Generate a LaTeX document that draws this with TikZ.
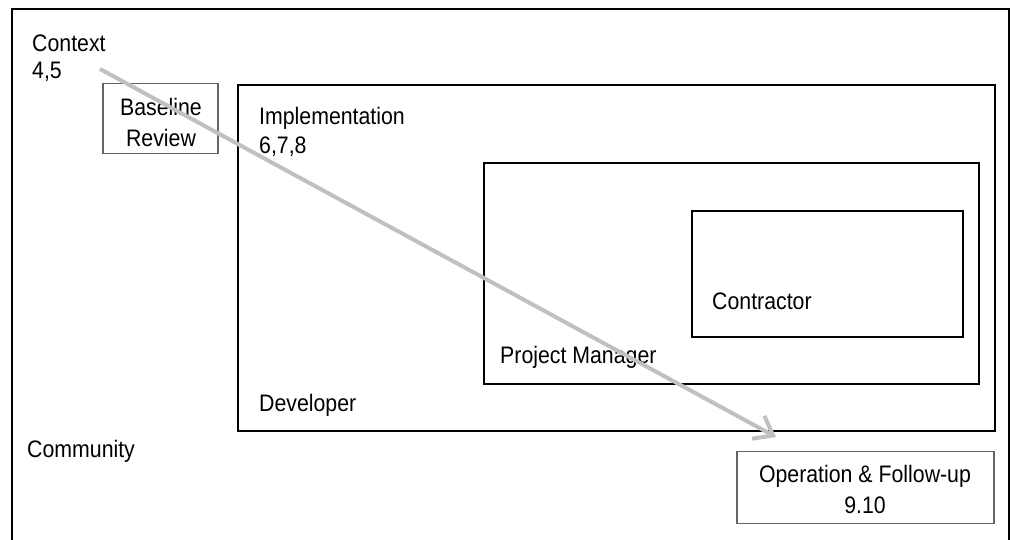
\documentclass[tikz,border=0pt]{standalone}
\usepackage{fontspec}
\setmainfont{Liberation Sans}
\usetikzlibrary{arrows.meta}
\definecolor{flowgray}{RGB}{192,192,192}
\definecolor{boxgray}{RGB}{100,100,100}
% slightly tall lettering
\newcommand{\tallword}[1]{\scalebox{1}[1.12]{#1}}
\tikzset{
  frame/.style={draw=black, line width=2.6pt},
  zone/.style={draw=black, line width=1.9pt},
  panel/.style={draw=boxgray, line width=1.2pt},
  lbl/.style={anchor=base west, inner sep=0pt, font=\fontsize{21.3}{28}\selectfont},
  clbl/.style={anchor=base, inner sep=0pt, font=\fontsize{21.3}{28}\selectfont},
  flow/.style={draw=flowgray, line width=4pt,
    -{Straight Barb[length=17pt, width=26pt, line width=4pt]}}
}
\begin{document}
\begin{tikzpicture}[x=1pt, y=-1pt]
\useasboundingbox (0,0) rectangle (1011,540);
\clip (0,0) rectangle (1011,540);
\fill[white] (0,0) rectangle (1011,540);

% community frame, open at the bottom
\draw[frame] (12,545) -- (12,9) -- (1009,9) -- (1009,545);

% nested zones
\draw[zone] (238,85) rectangle (995,431);
\draw[zone] (484,163) rectangle (979,384);
\draw[zone] (692,211) rectangle (963,337);

% side panels
\node[panel, minimum width=115pt, minimum height=70pt, inner sep=0pt] (baseline) at (160.5,118.5) {};
\node[panel, minimum width=257pt, minimum height=72pt, inner sep=0pt] (operation) at (865.5,487.5) {};

% labels
\node[lbl] (context) at (32,52) {\tallword{Context}};
\node[lbl] (ctxnum) at (32,79) {\tallword{4,5}};
\node[clbl] (baseA) at (161,116) {\tallword{Baseline}};
\node[clbl] (baseB) at (161,147) {\tallword{Review}};
\node[lbl] (impl) at (259,125) {\tallword{Implementation}};
\node[lbl] (implnum) at (259,154) {\tallword{6,7,8}};
\node[lbl] (dev) at (259,411) {\tallword{Developer}};
\node[lbl] (pm) at (500,363) {\tallword{Project Manager}};
\node[lbl] (contr) at (712,309) {\tallword{Contractor}};
\node[lbl] (comm) at (27,457) {\tallword{Community}};
\node[clbl] (opA) at (865,482) {\tallword{Operation \& Follow-up}};
\node[clbl] (opB) at (865,513) {\tallword{9.10}};

% flow through the project stages
\coordinate (flowstart) at (100,69);
\coordinate (flowend) at (776,437);
\draw[flow] (flowstart) -- (flowend);
\end{tikzpicture}
\end{document}
